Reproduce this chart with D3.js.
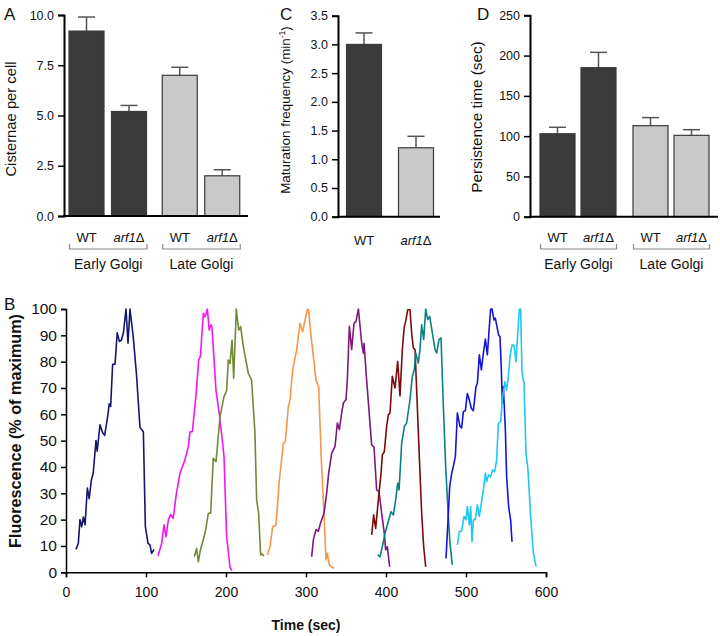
<!DOCTYPE html>
<html><head><meta charset="utf-8">
<script src="https://cdn.jsdelivr.net/npm/d3@7"></script>
<style>body{margin:0;background:#fff}svg{display:block}text{font-family:"Liberation Sans",Arial,sans-serif}</style>
</head><body><svg id="c" width="720" height="636"></svg>
<script>
// ---------- data ----------
const groupsAD = ["Early Golgi", "Late Golgi"];
const strains = ["WT", "arf1Δ"];
const cisternae = [9.2, 5.2, 7.0, 2.0];
const cisternaeErr = [9.9, 5.5, 7.4, 2.3];
const maturation = [3.0, 1.2];
const maturationErr = [3.2, 1.4];
const persistence = [103, 185, 113, 101];
const persistenceErr = [111, 204, 123, 108];
const ticksA = [0, 2.5, 5, 7.5, 10];
const ticksC = [0, 0.5, 1, 1.5, 2, 2.5, 3, 3.5];
const ticksD = [0, 50, 100, 150, 200, 250];
const ticksBy = [0,10,20,30,40,50,60,70,80,90,100];
const ticksBx = [0,100,200,300,400,500,600];

const navy = [[12.5,8.7],[15.4,11],[17.5,20],[19.6,17.3],[21.7,21],[23.8,18],[26.7,32],[29,28],[31.7,35],[34,37.6],[37.5,50],[39,46],[42.5,56],[45.8,53],[48.3,52],[52.5,60],[54,64],[55.8,63],[58.3,79],[61.3,79],[64,91],[66.7,87.7],[69,88],[71.7,90.8],[75,100],[77.5,87],[80,100],[84,89.5],[88,75.6],[92.5,55],[96.7,53.4],[99.2,17.3],[102.5,11],[105,10.4],[107,7.2],[110,8.7]];
const magenta = [[115,6.2],[119.6,11],[122.5,18],[125,13.5],[128,20],[130.8,22],[134,20.5],[138,30],[142.5,37.6],[148.7,42.7],[152.9,47.7],[155,53.4],[158,53.4],[163,69],[165.8,80.6],[168,82],[171.7,98.4],[174,97],[176.7,100],[179,92],[181,94],[182.5,93],[187.5,69],[191.7,60],[195.8,49],[197.5,44],[200.8,13.5],[205,2],[207.5,0.6]];
const olive = [[160.4,5.9],[163.3,9.1],[165.4,4],[168,8.5],[173.8,14.8],[177.9,22.4],[180.8,22.4],[184.1,43.3],[187.5,42],[192.5,59],[197.5,66.7],[200.8,69],[202.9,80.6],[205,79.3],[207.5,88.2],[209.6,73.7],[212.9,100],[215.8,92],[218.3,93.3],[221.7,85.7],[227.9,75.6],[232,73],[236.2,52.8],[238.3,27.5],[240.8,22.4],[243.3,6.6],[244.6,7.1],[247.5,6.2]];
const orange = [[251.7,6.6],[255,9.7],[258.3,17.3],[262.5,17.9],[266.7,35],[271.7,49],[274.2,49.6],[277.9,62.9],[280,65.4],[283.3,76.8],[288.3,84.4],[292.5,94.6],[295.8,91.4],[298.8,95.8],[301.7,99.9],[303.3,99.6],[305.8,91],[309.2,81.9],[312.5,73],[315.8,70.5],[319.2,42.6],[322.5,22.4],[325,4.7],[326.7,7.2],[329.2,2.7],[331.7,2.2],[335,1.5]];
const purple = [[307.1,5.9],[309.2,12.3],[312.5,16.2],[315.4,15.6],[318.3,18.8],[322.5,22.4],[325.8,30],[328.3,37.6],[332.1,45.2],[336.3,47.8],[339.2,56.7],[341.7,54.2],[344.6,60.5],[346.7,64.3],[350,65.6],[351.7,73.2],[354.2,93.4],[357.1,84.6],[360,94.6],[362.5,95.2],[365.5,100],[369.6,87],[371.7,83.2],[372.5,87],[375.8,73],[382.1,48.3],[385,47.6],[388.3,31.3],[391.3,30.6],[394.6,22.4],[397.9,14.8],[399.6,8.5],[401.7,9.7],[404.6,2.1]];
const darkred = [[382.1,14.2],[384.6,21.8],[387.1,16.7],[390.4,27.4],[393.8,37.6],[395.4,44.6],[397.9,45.8],[400.8,55.4],[402.9,59.8],[405,60.5],[407.9,74.4],[411.3,70],[414.6,80.1],[417.5,67],[420.4,84.6],[422.9,93.4],[424.6,95.3],[427.1,99.7],[430,99.7],[432.1,90.8],[434.2,85.2],[436.3,84.6],[438.3,69.4],[441.3,46.6],[444.6,22.4],[447.1,9.7],[449.6,2.1]];
const teal = [[389.6,6.6],[392.5,5.9],[395.4,9.7],[398.8,14.8],[402.9,19.3],[406.3,23],[409.2,21.8],[412.1,27.5],[414.6,33.9],[416.3,31.3],[419.6,49],[423,55.4],[425.8,56.7],[430,65.6],[432.9,74.4],[435.4,77],[437.1,83.3],[440.4,79.5],[442.5,84.6],[444.6,94],[447.1,88.4],[449.6,100],[452.1,96],[454.6,97.2],[458,90.8],[461.3,84.6],[463.3,83.3],[466.3,88.4],[468.8,89],[471.7,63],[474.6,40.3],[477.9,21.2],[480,11],[482.9,2.8]];
const blue = [[475,5.3],[477.1,17.3],[479.6,32.5],[482.1,37.6],[484.2,40.2],[486.7,44],[489.2,60.5],[492.5,55.4],[494.6,54.8],[496.7,61],[499.2,61.4],[501.7,67.9],[504.2,65.4],[506.7,62.2],[509.2,61.4],[512.5,70.5],[514.2,71.8],[516.7,82.6],[519.2,76.9],[521.7,83.2],[524.2,88.6],[526.7,82.6],[529.2,93.4],[530.8,100],[532.5,100],[535,95.8],[536.7,96.5],[538.3,94],[540.8,90.1],[542.5,89.5],[544.2,76.9],[545.4,64.2],[546.7,70.5],[549.2,54],[550.8,36.3],[553.3,24.9],[555.8,19.8],[557.5,11.6]];
const cyan = [[489.2,10.4],[491.7,15.4],[494.6,15.8],[497.5,21.2],[500,19.9],[501.7,25],[504.2,18],[505.8,25],[507.5,11.6],[509.2,19.9],[511.7,20.1],[514.2,25.6],[516.7,21.2],[519.2,26.3],[521.7,31.3],[524.2,37.6],[525.8,34.5],[528.3,37],[530.8,36.3],[533.3,38.9],[535.8,38.2],[538.3,42.6],[540.4,56.5],[543.3,57.2],[545.8,66.7],[548.8,72.4],[550.8,69.2],[552.5,73],[555,81.9],[557.5,86.3],[560,86.3],[562.5,80],[565,92.1],[566.7,99.7],[568.3,100],[570,75.6],[572.5,71.8],[575,45.2],[577.5,38.9],[580.8,21.2],[584.2,7.3],[587.5,2.3]];
const seriesB = [navy, magenta, olive, orange, purple, darkred, teal, blue, cyan];
const seriesColors = ["#15156e","#f217f2","#6f8a37","#f7964a","#80167f","#7d0a0a","#0d8080","#1414d8","#1ec8f0"];

// ---------- drawing ----------
const svg = d3.select("#c");
const DARK = "#3b3b3b", LIGHT = "#c9c9c9", EDGE = "#3a3a3a";
const font = 12.5;

function yAxisPanel(y, ticks, x0, fmt) {
  const g = svg.append("g").attr("transform", `translate(${x0},0)`)
    .call(d3.axisLeft(y).tickValues(ticks).tickFormat(fmt).tickSize(6).tickPadding(4));
  g.select(".domain").attr("stroke", "#000").attr("stroke-width", 2);
  g.selectAll(".tick line").attr("stroke", "#000").attr("stroke-width", 1.5);
  g.selectAll(".tick text").attr("font-size", font).attr("fill", "#111");
  return g;
}
function xBase(y0, xa, xb) {
  svg.append("line").attr("x1", xa).attr("x2", xb).attr("y1", y0).attr("y2", y0)
    .attr("stroke", "#000").attr("stroke-width", 2);
}
function strainLabel(x, y, s) {
  const t = svg.append("text").attr("x", x).attr("y", y).attr("text-anchor", "middle")
    .attr("font-size", 13).attr("fill", "#111");
  if (s === "WT") t.text("WT");
  else { t.append("tspan").attr("font-style", "italic").text("arf1"); t.append("tspan").text("Δ"); }
}
function bars(vals, errs, xpos, y, colors, bw) {
  const data = vals.map((v, i) => ({v, e: errs[i], x: xpos(i), c: colors[i]}));
  svg.append("g").selectAll("line.e").data(data).join("line")
    .attr("x1", d => d.x).attr("x2", d => d.x).attr("y1", d => y(d.v)).attr("y2", d => y(d.e))
    .attr("stroke", "#555").attr("stroke-width", 1.5);
  svg.append("g").selectAll("line.c").data(data).join("line")
    .attr("x1", d => d.x - 8.5).attr("x2", d => d.x + 8.5).attr("y1", d => y(d.e)).attr("y2", d => y(d.e))
    .attr("stroke", "#555").attr("stroke-width", 1.5);
  svg.append("g").selectAll("rect").data(data).join("rect")
    .attr("x", d => d.x - bw / 2).attr("width", bw)
    .attr("y", d => y(d.v)).attr("height", d => y(0) - y(d.v))
    .attr("fill", d => d.c).attr("stroke", EDGE).attr("stroke-width", 1.2);
}
function bracket(xa, xb, yb, label) {
  svg.append("path").attr("d", `M${xa},${yb-5}V${yb}H${xb}V${yb-5}`)
    .attr("fill", "none").attr("stroke", "#888").attr("stroke-width", 1.2);
  svg.append("text").attr("x", (xa + xb) / 2).attr("y", yb + 20).attr("text-anchor", "middle")
    .attr("font-size", 14).attr("fill", "#111").text(label);
}
function yTitle(x, y, txt, fs) {
  return svg.append("text").attr("transform", `translate(${x},${y}) rotate(-90)`)
    .attr("text-anchor", "middle").attr("font-size", fs).attr("fill", "#111").text(txt);
}
function panelLetter(x, y, l) {
  svg.append("text").attr("x", x).attr("y", y).attr("font-size", 17).attr("fill", "#111").text(l);
}
const barColors4 = [DARK, DARK, LIGHT, LIGHT];
const bw = 35;

// Panel A
{
  const y = d3.scaleLinear().domain([0, 10]).range([216, 15]);
  const gx = d3.scalePoint().domain(groupsAD).range([107.75, 201]);
  const sx = d3.scalePoint().domain(strains).range([-21.25, 21.25]);
  const xpos = i => gx(groupsAD[Math.floor(i / 2)]) + sx(strains[i % 2]);
  bars(cisternae, cisternaeErr, xpos, y, barColors4, bw);
  yAxisPanel(y, ticksA, 64, d3.format(".1f"));
  xBase(216, 63, 248);
  for (let i = 0; i < 4; i++) strainLabel(xpos(i), 242, strains[i % 2]);
  bracket(xpos(0) - 17, xpos(1) + 18, 249, groupsAD[0]);
  bracket(xpos(2) - 17, xpos(3) + 18, 249, groupsAD[1]);
  yTitle(16, 119, "Cisternae per cell", 14.8);
  panelLetter(4, 20, "A");
}
// Panel C
{
  const y = d3.scaleLinear().domain([0, 3.5]).range([216.7, 15.7]);
  const x = d3.scalePoint().domain(strains).range([364, 416]);
  bars(maturation, maturationErr, i => x(strains[i]), y, [DARK, LIGHT], bw);
  yAxisPanel(y, ticksC, 338, d3.format(".1f"));
  xBase(216.7, 337, 440);
  strains.forEach(s => strainLabel(x(s), 245, s));
  const t = yTitle(290, 110, "Maturation frequency (min", 13.4);
  t.append("tspan").attr("font-size", 8.5).attr("dy", -5).text("-1");
  t.append("tspan").attr("dy", 5).text(")");
  panelLetter(280, 20, "C");
}
// Panel D
{
  const y = d3.scaleLinear().domain([0, 250]).range([216.7, 15.3]);
  const gx = d3.scalePoint().domain(groupsAD).range([578, 671]);
  const sx = d3.scalePoint().domain(strains).range([-20.5, 20.5]);
  const xpos = i => gx(groupsAD[Math.floor(i / 2)]) + sx(strains[i % 2]);
  bars(persistence, persistenceErr, xpos, y, barColors4, bw);
  yAxisPanel(y, ticksD, 530, d3.format("d"));
  xBase(216.7, 529, 718);
  for (let i = 0; i < 4; i++) strainLabel(xpos(i), 242, strains[i % 2]);
  bracket(xpos(0) - 17, xpos(1) + 18, 249, groupsAD[0]);
  bracket(xpos(2) - 17, xpos(3) + 18, 249, groupsAD[1]);
  yTitle(482, 117, "Persistence time (sec)", 15.3);
  panelLetter(477, 20, "D");
}
// Panel B
{
  const x = d3.scaleLinear().domain([0, 600]).range([66, 546]);
  const y = d3.scaleLinear().domain([0, 100]).range([572.3, 309]);
  const line = d3.line().x(d => x(d[0])).y(d => y(d[1]));
  svg.append("g").selectAll("path").data(seriesB).join("path")
    .attr("d", line).attr("fill", "none")
    .attr("stroke", (d, i) => seriesColors[i]).attr("stroke-width", 1.6)
    .attr("stroke-linejoin", "round");
  const gy = svg.append("g").attr("transform", "translate(66,0)")
    .call(d3.axisLeft(y).tickValues(ticksBy).tickSize(5).tickPadding(4));
  const gxA = svg.append("g").attr("transform", "translate(0,572.3)")
    .call(d3.axisBottom(x).tickValues(ticksBx).tickSize(5).tickPadding(10));
  [gy, gxA].forEach(g => {
    g.select(".domain").attr("stroke", "#000").attr("stroke-width", 1.5);
    g.selectAll(".tick line").attr("stroke", "#000").attr("stroke-width", 1.5);
    g.selectAll(".tick text").attr("fill", "#111");
  });
  gy.selectAll(".tick text").attr("font-size", 15.5);
  gxA.selectAll(".tick text").attr("font-size", 14);
  svg.append("text").attr("x", 306).attr("y", 630).attr("text-anchor", "middle")
    .attr("font-size", 14).attr("font-weight", "bold").attr("fill", "#111").text("Time (sec)");
  svg.append("text").attr("transform", "translate(21,431) rotate(-90)")
    .attr("text-anchor", "middle").attr("font-size", 16.2).attr("font-weight", "bold")
    .attr("fill", "#111").text("Fluorescence (% of maximum)");
  panelLetter(4, 310, "B");
}
</script></body></html>
